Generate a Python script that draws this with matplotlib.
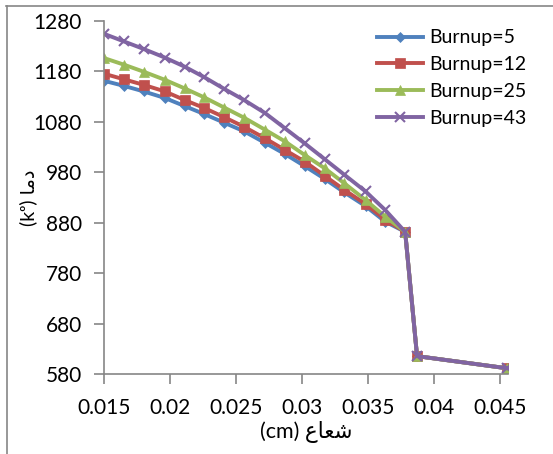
import matplotlib
matplotlib.use("Agg")
import matplotlib.pyplot as plt
from matplotlib.lines import Line2D

plt.rcParams['font.family'] = ['Lato', 'DejaVu Sans']

# radius (cm)
radius = [0.0150, 0.0165, 0.0180, 0.0196, 0.0211, 0.0226, 0.0241, 0.0256, 0.0272,
          0.0287, 0.0302, 0.0317, 0.0332, 0.0348, 0.0363, 0.0378, 0.0387, 0.0455]

# temperature (K) for each burnup
burnup_5 = [1161, 1151, 1140, 1127, 1111, 1095, 1078, 1061, 1038,
            1016, 992, 967, 940, 913, 882, 862, 616, 592]
burnup_12 = [1175, 1164, 1153, 1140, 1123, 1107, 1089, 1070, 1047,
             1024, 1001, 973, 945, 917, 886, 862, 616, 592]
burnup_25 = [1206, 1193, 1179, 1163, 1146, 1128, 1108, 1088, 1064,
             1041, 1014, 988, 958, 925, 892, 862, 616, 592]
burnup_43 = [1254, 1239, 1224, 1207, 1189, 1168, 1145, 1123, 1097,
             1067, 1037, 1006, 975, 942, 905, 862, 616, 592]

labels = ['Burnup=5', 'Burnup=12', 'Burnup=25', 'Burnup=43']
x_ticks = [0.015, 0.02, 0.025, 0.03, 0.035, 0.04, 0.045]
y_ticks = [580, 680, 780, 880, 980, 1080, 1180, 1280]

# arabic text written in presentation forms, visual order
xlabel = '(cm) \uFEC9\uFE8E\uFECC\uFEB7'
ylabel = '(k\u1D52) \uFE8E\uFEE3\uFEA9'

fig = plt.figure(figsize=(5.53, 4.54), dpi=100)
ax = fig.add_axes([0.188, 0.1755, 0.731, 0.779])

series = [burnup_5, burnup_12, burnup_25, burnup_43]
colors = ['#4F81BD', '#C0504D', '#9BBB59', '#8064A2']
markers = ['D', 's', '^', 'x']
msizes = [5, 7, 7.5, 6.5]
for vals, lab, c, m, ms in zip(series, labels, colors, markers, msizes):
    ax.plot(radius, vals, color=c, marker=m, markersize=ms, lw=2.8,
            markeredgewidth=1.5 if m == 'x' else 0.5, label=lab)

ax.set_xlim(0.015, 0.0456)
ax.set_ylim(580, 1280)
ax.set_xticks(x_ticks)
ax.set_xticklabels(['0.015', '0.02', '0.025', '0.03', '0.035', '0.04', '0.045'])
ax.set_yticks(y_ticks)

for s in ['top', 'right']:
    ax.spines[s].set_visible(False)
for s in ['left', 'bottom']:
    ax.spines[s].set_color('#868686')
    ax.spines[s].set_linewidth(1.2)
ax.tick_params(colors='#868686', labelcolor='black', labelsize=15,
               length=7, width=1.2, direction='out')
ax.tick_params(axis='y', pad=9)
ax.tick_params(axis='x', pad=10)

ax.set_xlabel(xlabel, fontsize=15.5, labelpad=2)
ax.set_ylabel(ylabel, fontsize=14, labelpad=-3)

ax.legend(loc='upper left', frameon=False, fontsize=14, handlelength=2.4,
          handletextpad=0.3, labelspacing=0.5, borderaxespad=0, borderpad=0,
          bbox_to_anchor=(0.675, 0.975))

# chart area border (top and left edges visible)
fig.add_artist(Line2D([6 / 553, 1], [1 - 6 / 454, 1 - 6 / 454], color='#868686', lw=1.2))
fig.add_artist(Line2D([7 / 553, 7 / 553], [0, 1 - 6 / 454], color='#868686', lw=1.2))

fig.savefig('out.png', dpi=100)
